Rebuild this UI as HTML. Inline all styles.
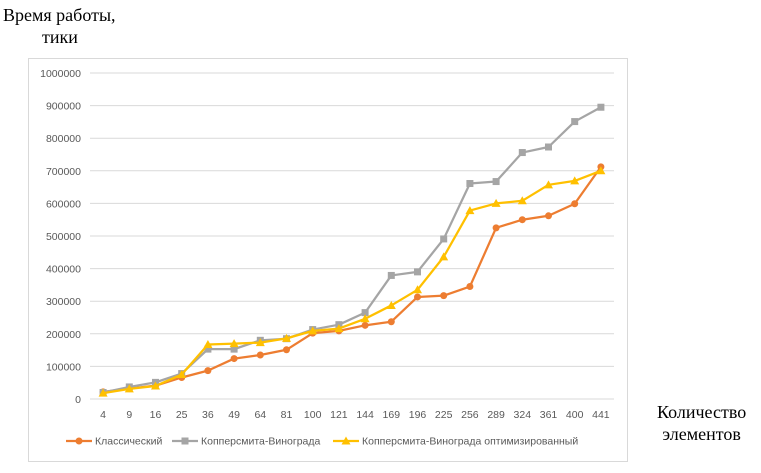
<!DOCTYPE html>
<html><head><meta charset="utf-8"><style>
body{margin:0;width:761px;height:473px;background:#fff;overflow:hidden;position:relative}
.t{position:absolute;font-family:"Liberation Serif","DejaVu Serif",serif;font-size:18px;color:#000;line-height:22px}
</style></head><body>
<div class="t" style="left:3px;top:4px">Время работы,<br><span style="padding-left:39px">тики</span></div>
<div class="t" style="left:657px;top:401px;text-align:center">Количество<br>элементов</div>
<svg id="c" width="761" height="473" style="position:absolute;left:0;top:0"></svg>
<script>
const categories=["4","9","16","25","36","49","64","81","100","121","144","169","196","225","256","289","324","361","400","441"];
const classic=[22000,32000,41000,66000,87000,124000,135000,151000,202000,209000,226000,237000,313000,317000,345000,525000,550000,562000,599000,712000];
const winograd=[20000,37000,51000,78000,153000,153000,180000,185000,213000,228000,265000,379000,390000,491000,661000,667000,756000,773000,851000,895000];
const winogradOpt=[18000,31000,40000,75000,167000,170000,173000,186000,209000,216000,246000,287000,335000,436000,578000,600000,608000,657000,669000,700000];
const yTicks=[0,100000,200000,300000,400000,500000,600000,700000,800000,900000,1000000];
const seriesNames=["Классический","Копперсмита-Винограда","Копперсмита-Винограда оптимизированный"];
const NS="http://www.w3.org/2000/svg";
const svg=document.getElementById('c');
const L=90,R=614,Y0=399,Y1=73;
const band=(R-L)/categories.length;
const x=i=>L+band*(i+0.5);
const y=v=>Y0-(v/1000000)*(Y0-Y1);
function mk(tag,attrs){const e=document.createElementNS(NS,tag);for(const k in attrs)e.setAttribute(k,attrs[k]);svg.appendChild(e);return e;}
const border=mk('rect',{x:28.5,y:58.5,width:599,height:403,fill:'#fff',stroke:'#d9d9d9'});


yTicks.forEach(v=>{
 const g=mk('line',{x1:L,x2:R,y1:y(v),y2:y(v),stroke:'#d9d9d9','stroke-width':1});
 
 
 const t=mk('text',{x:81,y:y(v)+4,'text-anchor':'end','font-family':'Liberation Sans,sans-serif','font-size':'10.5px',fill:'#595959'});
 t.textContent=String(v);
 
 
});
categories.forEach((c,i)=>{
 const t=mk('text',{x:x(i),y:418,'text-anchor':'middle','font-family':'Liberation Sans,sans-serif','font-size':'10.5px',fill:'#595959'});
 t.textContent=c;
 
 
});
function marker(type,cx,cy,color){
 let m;
 if(type==='circle')m=mk('circle',{cx:cx,cy:cy,r:3.5,fill:color});
 else if(type==='square')m=mk('rect',{x:cx-3.5,y:cy-3.5,width:7,height:7,fill:color});
 else m=mk('polygon',{points:`${cx},${cy-4.5} ${cx+4.5},${cy+3.5} ${cx-4.5},${cy+3.5}`,fill:color});
 return m;
}
const series=[[classic,'#ed7d31','circle','series-classic'],[winograd,'#a5a5a5','square','series-winograd'],[winogradOpt,'#ffc000','triangle','series-winograd-opt']];
series.forEach(([d,col,mt,name])=>{
 const p=mk('polyline',{points:d.map((v,i)=>x(i)+','+y(v)).join(' '),fill:'none',stroke:col,'stroke-width':2.25,'stroke-linejoin':'round'});
 
 
 d.forEach((v,i)=>{const m=marker(mt,x(i),y(v),col);
  
  });
});
const legX=[66,172,333];
series.forEach(([d,col,mt,name],k)=>{
 const lx=legX[k];
 const l=mk('line',{x1:lx,x2:lx+26,y1:441,y2:441,stroke:col,'stroke-width':2.25});
 
 
 marker(mt,lx+13,441,col);
 const t=mk('text',{x:lx+29,y:444.5,'font-family':'Liberation Sans,sans-serif','font-size':'10.5px',fill:'#595959'});
 t.textContent=seriesNames[k];
 
 
});
</script>
</body></html>
